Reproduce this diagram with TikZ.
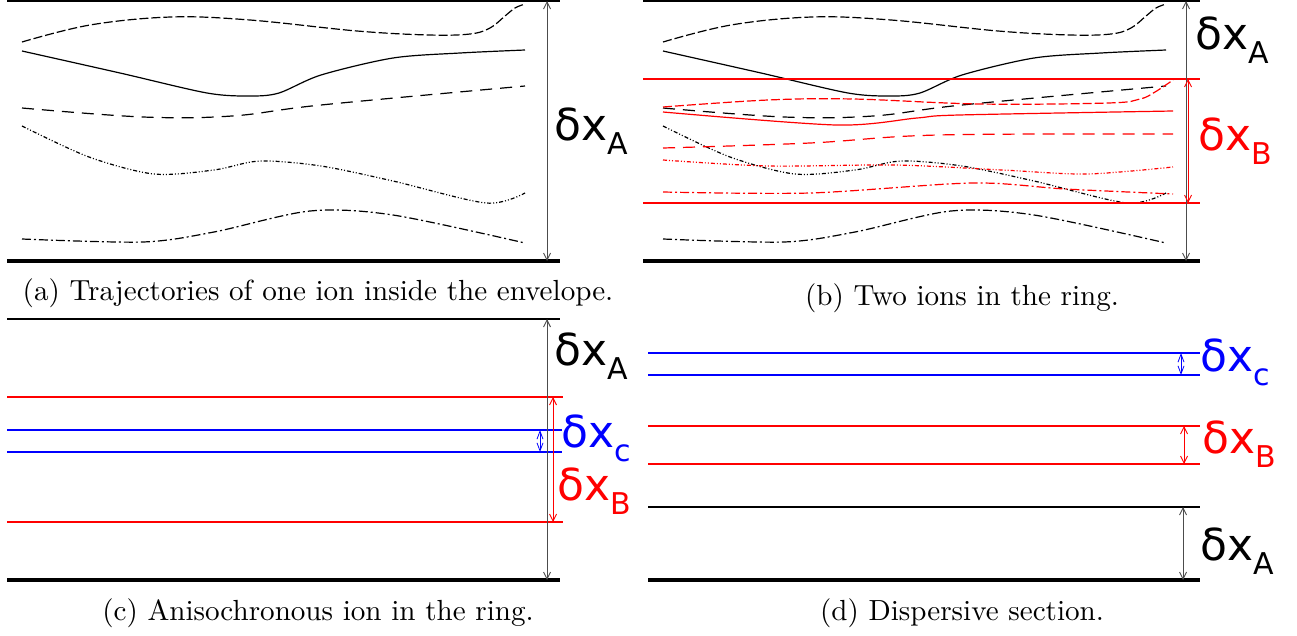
\documentclass[tikz,border=0pt]{standalone}
\usepackage{fontspec}
\newfontfamily\dv{DejaVu Sans}
\usetikzlibrary{arrows.meta}
\definecolor{myred}{RGB}{255,0,0}
\definecolor{myblue}{RGB}{0,0,255}
\newcommand\subl[1]{\raisebox{-14pt}{\fontsize{30}{32}\selectfont #1}}
\tikzset{
  wall/.style={line width=2pt,black},
  bwall/.style={line width=3.2pt,black},
  rline/.style={line width=2pt,myred},
  bline/.style={line width=2pt,myblue},
  meas/.style={line width=0.9pt,{Straight Barb[length=7pt,width=7pt]}-{Straight Barb[length=7pt,width=7pt]}},
  smeas/.style={line width=0.8pt,{Straight Barb[length=8pt,width=6pt]}-{Straight Barb[length=8pt,width=6pt]}},
  lab/.style={anchor=west,inner sep=0pt,font=\dv\fontsize{44}{48}\selectfont},
  captxt/.style={font=\fontsize{10}{12}\selectfont,inner sep=0pt,anchor=base,scale=2.91},
  tr/.style={line width=1.2pt},
  ltdash/.style={dash pattern=on 9pt off 3pt},
  mdash/.style={dash pattern=on 12pt off 8pt},
  ddot/.style={dash pattern=on 4pt off 2pt on 1pt off 2pt on 1pt off 2pt},
  ddash/.style={dash pattern=on 9pt off 3pt on 2pt off 3pt},
  trajA/.pic={
    \draw[tr,ltdash] plot[smooth,tension=0.6] coordinates {(22,42) (90,25) (171,17) (250,20) (357,31) (429,35) (470,34) (490,28) (505,16) (515,8) (525,4)};
    \draw[tr] plot[smooth,tension=0.5] coordinates {(22,51) (120,73) (207,93) (250,96) (279,93) (321,75) (393,58) (460,53) (525,50)};
    \draw[tr,mdash] plot[smooth,tension=0.6] coordinates {(22,108) (143,117) (232,116) (321,105) (525,86)};
    \draw[tr,ddot] plot[smooth,tension=0.5] coordinates {(22,126) (89,157) (154,174) (214,170) (260,161) (321,166) (393,181) (486,203) (525,193)};
    \draw[tr,ddash] plot[smooth,tension=0.5] coordinates {(22,239) (143,242) (214,232) (310,211) (393,215) (525,243)};
  }
}
\begin{document}
\begin{tikzpicture}[x=1pt,y=-1pt]
\useasboundingbox (0,0) rectangle (1297,635);
% ---------- (a)
\draw[wall] (7,1) -- (560,1);
\draw[bwall] (7,261) -- (560,261);
\pic at (0,0) {trajA};
\coordinate (aA1) at (547,1); \coordinate (aA2) at (547,261);
\draw[meas,black!70] (aA1) -- (aA2);
\node[lab] (la) at (554,131) {δx\subl{A}};
\node[captxt] (ca) at (318,300) {(a) Trajectories of one ion inside the envelope.};
% ---------- (b)
\draw[wall] (643,1) -- (1200,1);
\draw[bwall] (643,261) -- (1200,261);
\pic at (641,0) {trajA};
\draw[rline] (643,79) -- (1200,79);
\draw[rline] (643,203) -- (1200,203);
\begin{scope}[myred,tr]
\draw[ltdash] plot[smooth,tension=0.6] coordinates {(663,107) (768,100) (853,99) (980,104) (1108,103) (1140,99) (1155,92) (1173,80)};
\draw plot[smooth,tension=0.5] coordinates {(663,112) (836,125) (917,118) (959,115) (1173,111)};
\draw[mdash] plot[smooth,tension=0.6] coordinates {(663,148) (810,143) (938,135) (1173,134)};
\draw[ddot] plot[smooth,tension=0.5] coordinates {(663,160) (768,166) (895,165) (1002,170) (1087,174) (1173,167)};
\draw[ddash] plot[smooth,tension=0.5] coordinates {(663,192) (810,193) (972,183) (1065,189) (1173,194)};
\end{scope}
\coordinate (bA1) at (1186,1); \coordinate (bA2) at (1186,261);
\draw[meas,black!70] (bA1) -- (bA2);
\coordinate (bB1) at (1188,79); \coordinate (bB2) at (1188,203);
\draw[meas,myred] (bB1) -- (bB2);
\node[lab] (lbA) at (1195,40) {δx\subl{A}};
\node[lab,myred] (lbB) at (1198,141) {δx\subl{B}};
\node[captxt] (cb) at (962,305) {(b) Two ions in the ring.};
% ---------- (c)
\draw[wall] (7,319) -- (560,319);
\draw[bwall] (7,580) -- (560,580);
\draw[rline] (7,397) -- (563,397);
\draw[rline] (7,522) -- (563,522);
\draw[bline] (7,430) -- (562,430);
\draw[bline] (7,452) -- (562,452);
\coordinate (cA1) at (547,319); \coordinate (cA2) at (547,580);
\draw[meas,black!70] (cA1) -- (cA2);
\coordinate (cB1) at (553,397); \coordinate (cB2) at (553,522);
\draw[meas,myred] (cB1) -- (cB2);
\coordinate (cC1) at (540,430); \coordinate (cC2) at (540,452);
\draw[smeas,myblue] (cC1) -- (cC2);
\node[lab] (lcA) at (554,356) {δx\subl{A}};
\node[lab,myblue] (lcC) at (561,438) {δx\subl{c}};
\node[lab,myred] (lcB) at (557,491) {δx\subl{B}};
\node[captxt] (cc) at (318,620) {(c) Anisochronous ion in the ring.};
% ---------- (d)
\draw[bline] (648,353) -- (1200,353);
\draw[bline] (648,375) -- (1200,375);
\draw[rline] (648,426) -- (1200,426);
\draw[rline] (648,464) -- (1200,464);
\draw[wall] (648,507) -- (1200,507);
\draw[bwall] (648,580) -- (1200,580);
\coordinate (dC1) at (1181,353); \coordinate (dC2) at (1181,375);
\draw[smeas,myblue] (dC1) -- (dC2);
\coordinate (dB1) at (1184,426); \coordinate (dB2) at (1184,464);
\draw[meas,myred] (dB1) -- (dB2);
\coordinate (dA1) at (1183,507); \coordinate (dA2) at (1183,580);
\draw[meas,black!70] (dA1) -- (dA2);
\node[lab,myblue] (ldC) at (1200,362) {δx\subl{c}};
\node[lab,myred] (ldB) at (1202,444) {δx\subl{B}};
\node[lab] (ldA) at (1200,551) {δx\subl{A}};
\node[captxt] (cd) at (962,620) {(d) Dispersive section.};
\end{tikzpicture}
\end{document}
